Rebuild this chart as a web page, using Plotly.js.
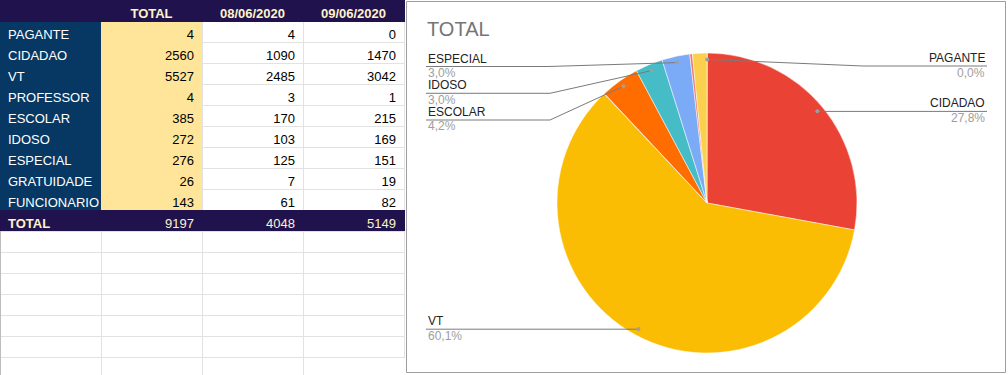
<!DOCTYPE html>
<html>
<head>
<meta charset="utf-8">
<script src="https://cdn.plot.ly/plotly-3.0.1.min.js"></script>
<style>
  html, body { margin: 0; padding: 0; background: #ffffff; }
  #chart { width: 1008px; height: 375px; }
</style>
</head>
<body>
<div id="chart"></div>
<script>
// ---- data ----
const categories = ['PAGANTE', 'CIDADAO', 'VT', 'PROFESSOR', 'ESCOLAR', 'IDOSO', 'ESPECIAL', 'GRATUIDADE', 'FUNCIONARIO'];
const totals     = [4, 2560, 5527, 4, 385, 272, 276, 26, 143];
const day1       = [4, 1090, 2485, 3, 170, 103, 125, 7, 61];
const day2       = [0, 1470, 3042, 1, 215, 169, 151, 19, 82];
const headerLabels = ['', 'TOTAL', '08/06/2020', '09/06/2020'];
const totalRowLabel = 'TOTAL';
const chartTitle = 'TOTAL';
const sliceColors = ['#4285F4', '#EA4335', '#FBBC04', '#34A853', '#FF6D01', '#46BDC6', '#7BAAF7', '#F07B72', '#FCD04F'];

// labelled slices (layout of the callouts)
const callouts = [
  { name: 'ESPECIAL', side: 'left',  lineY: 66.5,  elbowX: 548 },
  { name: 'IDOSO',    side: 'left',  lineY: 93.3,  elbowX: 550 },
  { name: 'ESCOLAR',  side: 'left',  lineY: 120.0, elbowX: 550 },
  { name: 'VT',       side: 'left',  lineY: 329.2, elbowX: null },
  { name: 'PAGANTE',  side: 'right', lineY: 66.0,  elbowX: 863 },
  { name: 'CIDADAO',  side: 'right', lineY: 111.4, elbowX: null }
];

// ---- geometry ----
const W = 1008, H = 375;
const px = x => x / W;
const py = y => 1 - y / H;
const CX = 707, CY = 203, R = 150, DOT_R = 0.957 * R;
const LEFT_TEXT_X = 426, RIGHT_TEXT_X = 987;

const sum = a => a.reduce((s, v) => s + v, 0);
const grand = sum(totals);

// ---- table ----
const nEmpty = 6;
const empty = Array(nEmpty).fill('');
const navy = '#073763', purple = '#20124d', yellow = '#ffe599', grid = '#e2e2e2', cream = '#fff2cc';
const n = categories.length;
const rep = (v, k) => Array(k).fill(v);
const FONT = 'Liberation Sans, Arial, sans-serif';

const colValues = [
  categories.concat([totalRowLabel], empty),
  totals.map(String).concat([String(sum(totals))], empty),
  day1.map(String).concat([String(sum(day1))], empty),
  day2.map(String).concat([String(sum(day2))], empty)
];
const fills = [
  rep(navy, n).concat([purple], rep('#ffffff', nEmpty)),
  rep(yellow, n).concat([purple], rep('#ffffff', nEmpty)),
  rep('#ffffff', n).concat([purple], rep('#ffffff', nEmpty)),
  rep('#ffffff', n).concat([purple], rep('#ffffff', nEmpty))
];
const fontColors = [
  rep('#ffffff', n).concat([cream], rep('#000000', nEmpty)),
  rep('#000000', n).concat([cream], rep('#000000', nEmpty)),
  rep('#000000', n).concat([cream], rep('#000000', nEmpty)),
  rep('#000000', n).concat([cream], rep('#000000', nEmpty))
];
const fontWeights = [
  rep('normal', n).concat(['bold'], rep('normal', nEmpty)),
  rep('normal', n + 1 + nEmpty),
  rep('normal', n + 1 + nEmpty),
  rep('normal', n + 1 + nEmpty)
];
const lineColors = [
  rep(navy, n).concat([purple], rep(grid, nEmpty)),
  rep(yellow, n).concat([purple], rep(grid, nEmpty)),
  rep(grid, n).concat([purple], rep(grid, nEmpty)),
  rep(grid, n).concat([purple], rep(grid, nEmpty))
];

const tableTrace = {
  type: 'table',
  domain: { x: [0, px(404)], y: [0, 1] },
  columnwidth: [101, 101, 101, 101],
  header: {
    values: headerLabels,
    align: ['left', 'center', 'center', 'center'],
    fill: { color: purple },
    line: { color: purple, width: 1 },
    font: { family: FONT, size: 13, color: cream, weight: 'bold' },
    height: 21
  },
  cells: {
    values: colValues,
    align: ['left', 'right', 'right', 'right'],
    fill: { color: fills },
    line: { color: lineColors, width: 1 },
    font: { family: FONT, size: 13, color: fontColors, weight: fontWeights },
    height: 21
  },
  hoverinfo: 'skip'
};

// ---- pie ----
const pieTrace = {
  type: 'pie',
  labels: categories,
  values: totals,
  sort: false,
  direction: 'clockwise',
  rotation: 0,
  marker: { colors: sliceColors, line: { color: '#ffffff', width: 0.5 } },
  textinfo: 'none',
  hoverinfo: 'label+percent',
  showlegend: false,
  domain: { x: [px(CX - R), px(CX + R)], y: [py(CY + R), py(CY - R)] }
};

// ---- callouts computed from data ----
const shapes = [];
const annotations = [];

// chart frame
shapes.push({ type: 'rect', xref: 'paper', yref: 'paper', layer: 'below',
  x0: px(406.5), x1: px(1005.5), y0: py(372.5), y1: py(1.5),
  line: { color: '#9e9e9e', width: 1 }, fillcolor: '#ffffff' });

// extend the sheet grid below the table
[101, 202, 303].forEach(x => shapes.push({ type: 'line', xref: 'paper', yref: 'paper',
  x0: px(x + 0.5), x1: px(x + 0.5), y0: py(357), y1: py(375), line: { color: grid, width: 1 } }));
shapes.push({ type: 'line', xref: 'paper', yref: 'paper', x0: px(0.5), x1: px(0.5), y0: py(231), y1: py(375),
  line: { color: '#bdbdbd', width: 1 } });

annotations.push({ xref: 'paper', yref: 'paper', x: px(LEFT_TEXT_X - 1), y: py(29), xanchor: 'left', yanchor: 'middle',
  text: chartTitle, showarrow: false, font: { family: FONT, size: 20, color: '#757575' } });

// cumulative angles
const cum = [];
let acc = 0;
totals.forEach(v => { cum.push(acc + v / 2); acc += v; });

callouts.forEach(c => {
  const i = categories.indexOf(c.name);
  const theta = cum[i] / grand * 2 * Math.PI;
  const dx = CX + DOT_R * Math.sin(theta);
  const dy = CY - DOT_R * Math.cos(theta);
  const pct = (totals[i] / grand * 100).toFixed(1).replace('.', ',') + '%';
  const textX = c.side === 'left' ? LEFT_TEXT_X : RIGHT_TEXT_X;
  const elbowX = c.elbowX === null ? dx : c.elbowX;
  const path = 'M ' + px(dx) + ' ' + py(dy) + ' L ' + px(elbowX) + ' ' + py(c.lineY) + ' L ' + px(textX) + ' ' + py(c.lineY);
  shapes.push({ type: 'path', xref: 'paper', yref: 'paper', path: path, line: { color: '#7a7a7a', width: 1 } });
  shapes.push({ type: 'circle', xref: 'paper', yref: 'paper',
    x0: px(dx - 2), x1: px(dx + 2), y0: py(dy + 2), y1: py(dy - 2),
    fillcolor: '#9e9e9e', line: { width: 0 } });
  const anchor = c.side === 'left' ? 'left' : 'right';
  annotations.push({ xref: 'paper', yref: 'paper', x: px(textX), y: py(c.lineY - 8), xanchor: anchor, yanchor: 'middle',
    text: c.name, showarrow: false, font: { family: FONT, size: 12, color: '#222222' } });
  annotations.push({ xref: 'paper', yref: 'paper', x: px(textX), y: py(c.lineY + 6.5), xanchor: anchor, yanchor: 'middle',
    text: pct, showarrow: false, font: { family: FONT, size: 12, color: '#9e9e9e' } });
});

const layout = {
  width: W, height: H,
  margin: { l: 0, r: 0, t: 0, b: 0 },
  paper_bgcolor: '#ffffff',
  showlegend: false,
  shapes: shapes,
  annotations: annotations
};

Plotly.newPlot('chart', [tableTrace, pieTrace], layout, { displayModeBar: false, staticPlot: true });
</script>
</body>
</html>
